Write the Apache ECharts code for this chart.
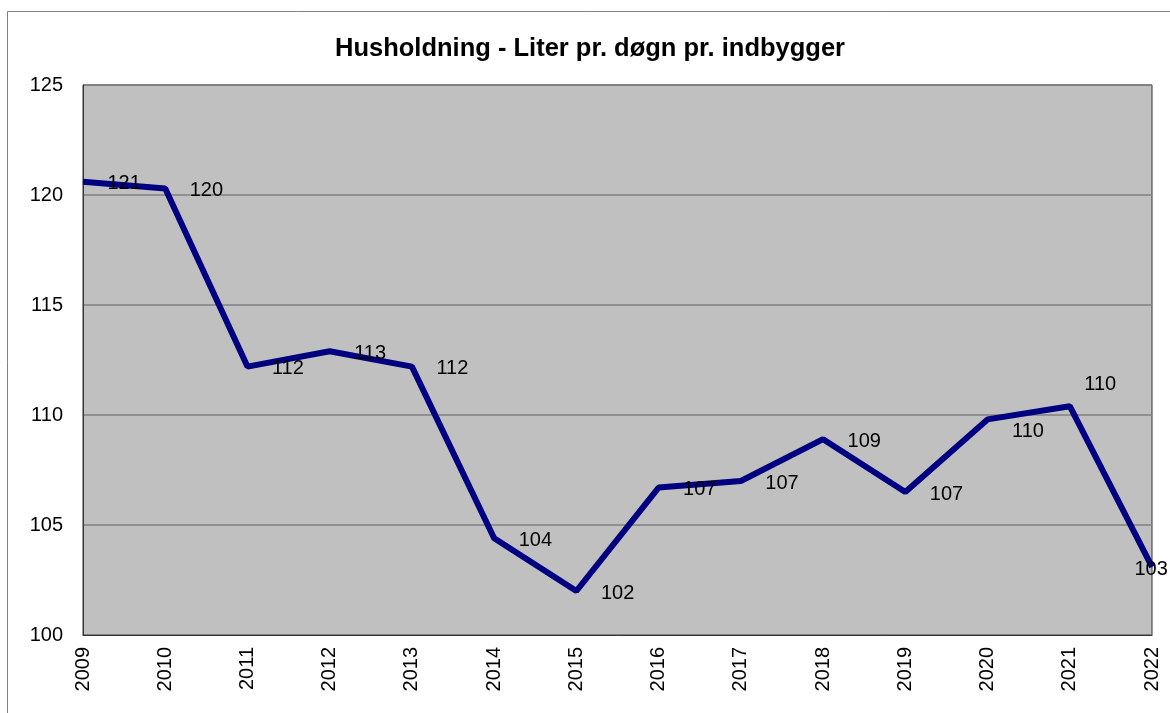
<!DOCTYPE html>
<html>
<head>
<meta charset="utf-8">
<script src="https://cdn.jsdelivr.net/npm/echarts@6/dist/echarts.min.js"></script>
<style>
  html, body { margin: 0; padding: 0; background: #fff; }
  #main { width: 1170px; height: 713px; }
</style>
</head>
<body>
<div id="main"></div>
<script>
var years = ['2009', '2010', '2011', '2012', '2013', '2014', '2015', '2016', '2017', '2018', '2019', '2020', '2021', '2022'];
var liter = [120.6, 120.3, 112.2, 112.9, 112.2, 104.4, 102.0, 106.7, 107.0, 108.9, 106.5, 109.8, 110.4, 103.1];
// Excel-style label nudges for the crowded points
var labelShift = { '2020': [0, 12], '2021': [-10, -22], '2022': [-42, 3] };

var myChart = echarts.init(document.getElementById('main'));

var option = {
    backgroundColor: '#ffffff',
    textStyle: { fontFamily: 'Liberation Sans, Arial, sans-serif' },
    title: {
        text: 'Husholdning - Liter pr. døgn pr. indbygger',
        left: 585,
        textAlign: 'center',
        top: 31,
        textStyle: { fontSize: 25.5, fontWeight: 'bold', color: '#000', fontFamily: 'Liberation Sans, Arial, sans-serif' }
    },
    graphic: [{
        type: 'rect',
        shape: { x: 7.5, y: 11.5, width: 1200, height: 800 },
        style: { fill: 'none', stroke: '#808080', lineWidth: 1 },
        silent: true
    }],
    grid: {
        left: 83,
        right: 18,
        top: 85,
        bottom: 78,
        show: true,
        backgroundColor: '#c0c0c0',
        borderColor: '#333333',
        borderWidth: 1
    },
    xAxis: {
        type: 'category',
        data: years,
        boundaryGap: false,
        axisLine: { show: true, lineStyle: { color: '#333333', width: 1 } },
        axisTick: { show: false },
        axisLabel: {
            rotate: 90,
            margin: 12,
            fontSize: 20,
            color: '#000',
            interval: 0
        },
        splitLine: { show: false }
    },
    yAxis: {
        type: 'value',
        min: 100,
        max: 125,
        interval: 5,
        axisLine: { show: true, lineStyle: { color: '#333333', width: 1 } },
        axisTick: { show: false },
        axisLabel: { fontSize: 20, color: '#000', margin: 20 },
        splitLine: { show: true, lineStyle: { color: '#808080', width: 1.5 } }
    },
    series: [{
        name: 'Liter',
        type: 'line',
        data: liter,
        symbol: 'circle',
        symbolSize: 1,
        showSymbol: true,
        lineStyle: { color: '#000080', width: 6 },
        itemStyle: { color: '#000080' },
        label: {
            show: true,
            position: 'right',
            distance: 24,
            fontSize: 20,
            color: '#000',
            formatter: function (p) { return Math.round(p.value); }
        },
        labelLayout: function (params) {
            var s = labelShift[years[params.dataIndex]] || [0, 2];
            return { dx: s[0], dy: s[1], hideOverlap: false };
        },
        emphasis: { disabled: true },
        clip: false,
        z: 3
    }]
};

myChart.setOption(option);
</script>
</body>
</html>
